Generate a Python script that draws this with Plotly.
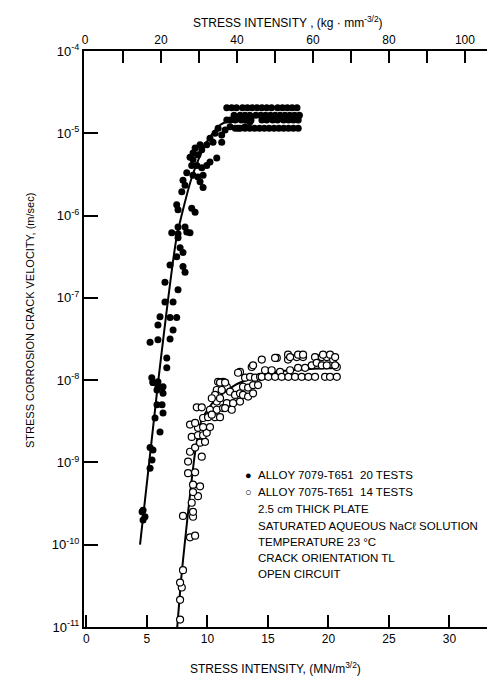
import plotly.graph_objects as go

# ---- data (K in MN/m^3/2, log10 of crack velocity in m/s) ----
closed_K = [5.5, 5.91, 6.25, 5.83, 6.33, 5.83, 6.25, 6.33, 5.67, 6.08, 5.26, 5.5, 5.42, 5.26,
            4.68, 4.60, 4.84, 4.68,
            7.05, 7.57, 8.29, 8.56, 7.57, 7.74, 7.98, 7.46, 6.91, 7.98, 8.15, 6.49, 7.57, 6.49, 7.16,
            6.08, 6.91, 7.46, 5.91, 7.16, 5.26, 5.91, 6.91, 6.64, 6.64, 5.40, 5.50, 6.33, 5.91,
            13.52, 13.11, 12.53, 11.60, 11.87, 11.46, 11.18, 10.88, 10.63, 10.21, 10.46, 9.94, 9.39, 9.53,
            11.18, 8.98, 8.81, 9.22, 8.56, 8.81, 10.77, 8.70, 9.12, 9.53, 9.94, 10.21, 8.29, 8.81, 9.22,
            9.64, 7.98, 8.15, 9.39, 9.64, 7.88, 7.46, 7.57, 8.70, 8.98, 7.57, 8.15,
            11.6, 12.0, 12.4, 12.9, 13.3, 13.7, 14.1, 14.5, 14.9, 15.3, 15.8, 16.2, 16.6, 17.0, 17.4,
            12.2, 12.7, 13.1, 13.5, 14.0, 14.4, 14.8, 15.2, 15.6, 16.0, 16.4, 16.8, 17.2, 17.6,
            11.9, 12.3, 12.8, 13.2, 13.6, 14.5, 14.9, 15.4, 15.8, 16.3, 16.7, 17.1, 17.5,
            12.3, 12.7, 13.1, 13.5, 13.9, 14.3, 14.7, 15.1, 15.5, 15.9, 16.3, 16.7, 17.1, 17.5]
closed_logv = [-8.03, -8.02, -8.09, -8.12, -8.16, -8.30, -8.30, -8.40, -8.46, -8.63, -8.82, -8.85, -8.97, -9.07,
               -9.58, -9.60, -9.66, -9.70,
               -6.21, -6.22, -6.20, -6.21, -6.27, -6.39, -6.45, -6.50, -6.60, -6.62, -6.69, -6.81, -6.90, -7.05, -7.05,
               -7.23, -7.24, -7.24, -7.33, -7.39, -7.54, -7.51, -7.50, -7.73, -7.85, -7.97, -8.03, -8.08, -8.08,
               -4.86, -4.92, -4.94, -4.84, -4.92, -4.96, -5.02, -4.94, -5.00, -5.06, -5.11, -5.14, -5.14, -5.20,
               -5.11, -5.18, -5.24, -5.26, -5.29, -5.32, -5.30, -5.39, -5.39, -5.42, -5.39, -5.35, -5.48, -5.51, -5.53,
               -5.51, -5.57, -5.63, -5.59, -5.66, -5.71, -5.87, -5.93, -5.91, -5.96, -6.14, -6.14,
               -4.69, -4.69, -4.69, -4.69, -4.69, -4.69, -4.69, -4.69, -4.69, -4.69, -4.69, -4.69, -4.69, -4.69, -4.69,
               -4.78, -4.78, -4.78, -4.78, -4.78, -4.78, -4.78, -4.78, -4.78, -4.78, -4.78, -4.78, -4.78, -4.78,
               -4.84, -4.84, -4.84, -4.84, -4.84, -4.84, -4.84, -4.84, -4.84, -4.84, -4.84, -4.84, -4.84,
               -4.94, -4.94, -4.94, -4.94, -4.94, -4.94, -4.94, -4.94, -4.94, -4.94, -4.94, -4.94, -4.94, -4.94]

open_K = [7.74, 7.74, 7.88, 7.98, 7.74, 8.56, 8.98, 7.98, 8.81, 8.81, 8.70, 9.22, 8.81, 9.39, 8.81,
          8.40, 8.98, 8.40, 9.53, 8.56, 8.98, 9.39, 9.80, 8.70, 9.22, 9.64, 9.94, 8.56, 9.22, 9.64, 10.21,
          9.64, 10.05, 10.63, 11.04, 9.12, 9.53, 10.21, 10.77, 11.29, 10.77, 11.60, 12.12, 12.69,
          8.98, 10.36, 10.88, 11.29, 11.60, 10.77, 11.18, 10.63, 10.36, 11.04, 11.87, 12.28, 12.69,
          11.46, 12.01, 12.69, 13.11, 13.52, 13.93, 14.35, 12.94, 13.36, 13.77, 14.18, 12.94, 13.36, 13.77,
          13.66, 14.49, 15.73, 16.66, 16.66, 14.76, 15.31, 16.0, 16.83,
          14.49, 15.03, 15.59, 16.14, 16.69, 17.24, 17.79, 18.34, 18.89, 19.72, 20.13, 20.69,
          17.38, 17.90, 18.89, 19.45, 19.86, 20.38, 17.49, 18.07, 18.62, 19.03, 19.45, 19.86, 20.69,
          16.83, 17.49, 17.90, 19.55, 20.13, 20.55, 20.55, 11.04, 11.46, 12.53, 13.77, 15.59]
open_logv = [-10.91, -10.67, -10.52, -10.31, -10.46, -9.91, -9.89, -9.65, -9.66, -9.60, -9.49, -9.41, -9.36, -9.29, -9.27,
             -9.13, -9.12, -8.99, -8.93, -8.87, -8.82, -8.76, -8.75, -8.69, -8.67, -8.67, -8.64, -8.54, -8.58, -8.57, -8.57,
             -8.46, -8.45, -8.45, -8.45, -8.33, -8.33, -8.36, -8.36, -8.34, -8.26, -8.28, -8.28, -8.26,
             -8.52, -8.42, -8.02, -8.02, -8.08, -8.12, -8.12, -8.18, -8.22, -8.22, -8.14, -8.18, -8.16,
             -8.34, -8.36, -7.90, -7.97, -7.96, -7.97, -7.96, -8.08, -8.09, -8.06, -8.06, -8.18, -8.20, -8.16,
             -7.84, -7.75, -7.73, -7.75, -7.69, -7.88, -7.88, -7.90, -7.88,
             -7.96, -7.96, -7.96, -7.96, -7.96, -7.96, -7.96, -7.96, -7.96, -7.96, -7.96, -7.96,
             -7.72, -7.72, -7.72, -7.72, -7.72, -7.75, -7.85, -7.85, -7.82, -7.79, -7.82, -7.82, -7.84,
             -7.72, -7.69, -7.69, -7.69, -7.69, -7.72, -7.82, -8.03, -8.03, -7.91, -7.82, -7.73]

closed_fit_K = [4.43, 5.92, 7.46, 8.70, 9.80, 11.04, 12.69, 17.65]
closed_fit_logv = [-10.00, -8.03, -6.26, -5.54, -5.14, -4.90, -4.81, -4.79]
open_fit_K = [7.50, 7.88, 8.98, 9.53, 10.63, 12.28, 14.34, 16.8, 20.95]
open_fit_logv = [-11.01, -10.34, -8.88, -8.48, -8.24, -8.06, -7.94, -7.88, -7.85]

x_ticks = [0, 5, 10, 15, 20, 25, 30]
kg_ticks = [0, 20, 40, 60, 80, 100]
kg_minor_ticks = [10, 30, 50, 70, 90]
y_exponents = [-11, -10, -9, -8, -7, -6, -5, -4]

legend_lines = ["ALLOY 7079-T651  20 TESTS", "ALLOY 7075-T651  14 TESTS", "2.5 cm THICK PLATE",
                "SATURATED AQUEOUS NaCℓ SOLUTION", "TEMPERATURE 23 °C", "CRACK ORIENTATION TL",
                "OPEN CIRCUIT"]

FONT = "Liberation Sans, Arial, sans-serif"

fig = go.Figure()
fig.add_trace(go.Scatter(x=closed_fit_K, y=[10 ** v for v in closed_fit_logv], mode="lines",
                         line=dict(color="black", width=2, shape="spline", smoothing=0.6),
                         showlegend=False, hoverinfo="skip"))
fig.add_trace(go.Scatter(x=open_fit_K, y=[10 ** v for v in open_fit_logv], mode="lines",
                         line=dict(color="black", width=2, shape="spline", smoothing=0.6),
                         showlegend=False, hoverinfo="skip"))
fig.add_trace(go.Scatter(x=closed_K, y=[10 ** v for v in closed_logv], mode="markers",
                         marker=dict(symbol="circle", size=7, color="black"),
                         name="ALLOY 7079-T651", showlegend=False))
fig.add_trace(go.Scatter(x=open_K, y=[10 ** v for v in open_logv], mode="markers",
                         marker=dict(symbol="circle", size=7, color="white",
                                     line=dict(color="black", width=1.2)),
                         name="ALLOY 7075-T651", showlegend=False))
# invisible trace to carry the top (kg) axis
fig.add_trace(go.Scatter(x=kg_ticks, y=[1e-4] * len(kg_ticks), xaxis="x2", mode="markers",
                         marker=dict(opacity=0), showlegend=False, hoverinfo="skip"))

fig.update_layout(
    width=487, height=684,
    margin=dict(l=84, r=0, t=51, b=57),
    paper_bgcolor="white", plot_bgcolor="white",
    font=dict(family=FONT, size=12, color="black"),
    xaxis=dict(range=[-0.2, 33.1], tickvals=x_ticks, ticks="inside", ticklen=12, tickwidth=1.5,
               tickcolor="black", showline=True, linewidth=2, linecolor="black", showgrid=False,
               zeroline=False, tickfont=dict(size=12, family=FONT)),
    xaxis2=dict(range=[-0.26, 105.8], overlaying="x", side="top", anchor="y",
                tickvals=kg_ticks, ticks="inside", ticklen=12, tickwidth=1.5,
                minor=dict(tickvals=kg_minor_ticks, ticks="inside", ticklen=12, tickwidth=1.5,
                           tickcolor="black", showgrid=False),
                tickcolor="black", showline=True, linewidth=2, linecolor="black", showgrid=False,
                zeroline=False, tickfont=dict(size=12, family=FONT)),
    yaxis=dict(type="log", range=[-11, -4], tickvals=[10 ** e for e in y_exponents],
               ticktext=["10<sup>%d</sup>" % e for e in y_exponents],
               ticks="inside", ticklen=14, tickwidth=1.5, tickcolor="black",
               showline=True, linewidth=2, linecolor="black", showgrid=False, zeroline=False,
               tickfont=dict(size=13, family=FONT)),
)

def A(text, x, y, size=12, xanchor="center", angle=0):
    return dict(text=text, x=x, y=y, xref="paper", yref="paper", xanchor=xanchor, yanchor="middle",
                showarrow=False, textangle=angle, font=dict(size=size, family=FONT))

ann = [
    A("STRESS INTENSITY , (kg · mm<sup>-3/2</sup>)", 0.506, 1.050),
    A("STRESS INTENSITY, (MN/m<sup>3/2</sup>)", 0.474, -0.071),
    A("STRESS CORROSION CRACK VELOCITY, (m/sec)", -0.134, 0.533, size=11, angle=-90),
]
line_y = [0.264, 0.234, 0.205, 0.175, 0.148, 0.120, 0.092]
for txt, yy in zip(legend_lines, line_y):
    ann.append(A(txt, 0.427, yy, size=11.5, xanchor="left"))
ann.append(A("●", 0.407, line_y[0], size=11))
ann.append(A("○", 0.407, line_y[1], size=11))
fig.update_layout(annotations=ann)

fig.write_html("out.html", config={"displayModeBar": False},
               post_script="document.body.style.margin='0px';document.body.style.overflow='hidden';")
